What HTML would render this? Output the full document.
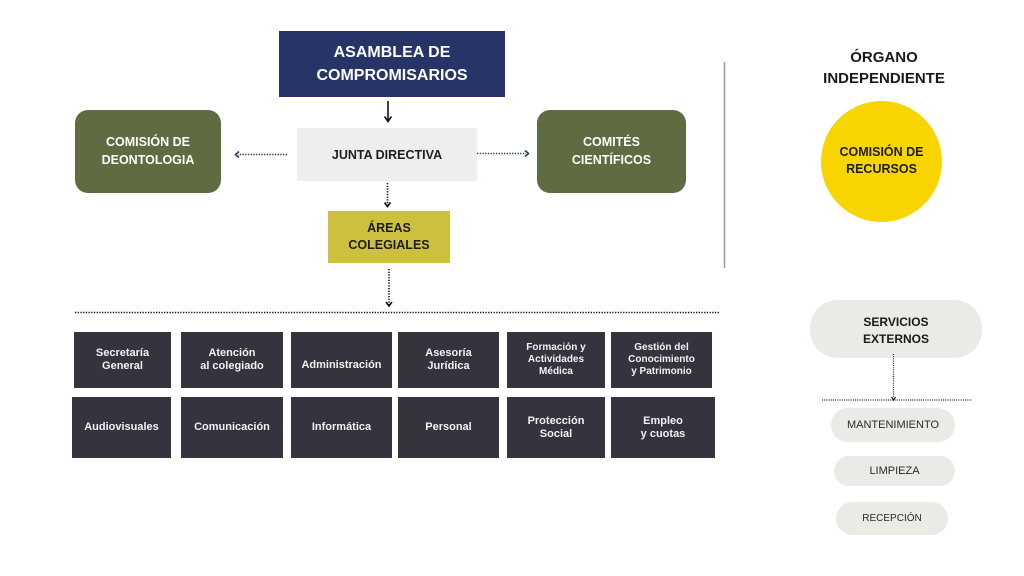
<!DOCTYPE html>
<html><head><meta charset="utf-8">
<style>
html,body{margin:0;padding:0;background:#fff;}
body{width:1024px;height:576px;position:relative;overflow:hidden;font-family:"Liberation Sans",Arial,sans-serif;}
.b{position:absolute;display:flex;align-items:center;justify-content:center;text-align:center;font-weight:bold;box-sizing:border-box;}
.navy{background:#273467;color:#fff;font-size:16px;line-height:23px;}
.olive{background:#5f6b41;color:#fff;font-size:12.5px;line-height:17.5px;border-radius:13px;}
.light{background:#efeeec;color:#1e1e1e;}
.yel{background:#cdc03f;color:#1c1c1c;font-size:12.5px;line-height:17.5px;}
.g{background:#34343e;color:#f2f2f2;font-size:11px;line-height:13px;}
.g3{font-size:10px;line-height:12px;}
.pill{background:#eceae7;color:#2a2a2a;font-weight:normal;border-radius:17px;}
svg{position:absolute;left:0;top:0;}
</style></head><body>

<div class="b navy" style="left:279px;top:31px;width:226px;height:66px;">ASAMBLEA DE<br>COMPROMISARIOS</div>
<div class="b olive" style="left:75px;top:110px;width:146px;height:83px;">COMISIÓN DE<br>DEONTOLOGIA</div>
<div class="b olive" style="left:537px;top:110px;width:149px;height:83px;">COMITÉS<br>CIENTÍFICOS</div>
<div class="b light" style="left:297px;top:128px;width:180px;height:53px;font-size:12.5px;">JUNTA DIRECTIVA</div>
<div class="b yel" style="left:328px;top:211px;width:122px;height:52px;">ÁREAS<br>COLEGIALES</div>

<div class="b g" style="left:74px;top:332px;width:97px;height:56px;">Secretaría<br>General</div>
<div class="b g" style="left:181px;top:332px;width:102px;height:56px;">Atención<br>al colegiado</div>
<div class="b g" style="left:291px;top:332px;width:101px;height:56px;padding-top:10px;">Administración</div>
<div class="b g" style="left:398px;top:332px;width:101px;height:56px;">Asesoría<br>Jurídica</div>
<div class="b g g3" style="left:507px;top:332px;width:98px;height:56px;">Formación y<br>Actividades<br>Médica</div>
<div class="b g g3" style="left:611px;top:332px;width:101px;height:56px;">Gestión del<br>Conocimiento<br>y Patrimonio</div>

<div class="b g" style="left:72px;top:397px;width:99px;height:61px;">Audiovisuales</div>
<div class="b g" style="left:181px;top:397px;width:102px;height:61px;">Comunicación</div>
<div class="b g" style="left:291px;top:397px;width:101px;height:61px;">Informática</div>
<div class="b g" style="left:398px;top:397px;width:101px;height:61px;">Personal</div>
<div class="b g" style="left:507px;top:397px;width:98px;height:61px;">Protección<br>Social</div>
<div class="b g" style="left:611px;top:397px;width:104px;height:61px;">Empleo<br>y cuotas</div>

<div class="b" style="left:800px;top:46px;width:168px;height:44px;font-size:15px;line-height:21px;color:#1a1a1a;">ÓRGANO<br>INDEPENDIENTE</div>
<div class="b" style="left:821px;top:101px;width:121px;height:121px;border-radius:50%;background:#f8d400;color:#1e1e1e;font-size:12.5px;line-height:17px;padding-bottom:2px;">COMISIÓN DE<br>RECURSOS</div>

<div class="b light" style="left:810px;top:300px;width:172px;height:58px;border-radius:28px;background:#eceae7;font-size:12px;line-height:17px;color:#1a1a1a;padding-top:3px;">SERVICIOS<br>EXTERNOS</div>
<div class="b pill" style="left:831px;top:408px;width:124px;height:34px;font-size:11px;">MANTENIMIENTO</div>
<div class="b pill" style="left:834px;top:456px;width:121px;height:30px;font-size:11px;border-radius:15px;">LIMPIEZA</div>
<div class="b pill" style="left:836px;top:502px;width:112px;height:33px;font-size:10px;">RECEPCIÓN</div>

<svg width="1024" height="576" viewBox="0 0 1024 576">
  <g fill="none" stroke-linecap="butt">
    <line x1="388" y1="101" x2="388" y2="121" stroke="#111" stroke-width="1.6"/>
    <polyline points="384.5,116.5 388,121.5 391.5,116.5" stroke="#111" stroke-width="1.6"/>
    <line x1="287" y1="154.5" x2="238" y2="154.5" stroke="#2c3a66" stroke-width="1.6" stroke-dasharray="1.3 1.4"/>
    <polyline points="239,151.5 235.5,154.5 239,157.5" stroke="#2c3a66" stroke-width="1.6"/>
    <line x1="477" y1="153.5" x2="526" y2="153.5" stroke="#2c3a66" stroke-width="1.6" stroke-dasharray="1.3 1.4"/>
    <polyline points="525,150.5 528.5,153.5 525,156.5" stroke="#2c3a66" stroke-width="1.6"/>
    <line x1="387.5" y1="183" x2="387.5" y2="205" stroke="#111" stroke-width="1.6" stroke-dasharray="1.3 1.4"/>
    <polyline points="384.5,202.5 387.5,206.5 390.5,202.5" stroke="#111" stroke-width="1.6"/>
    <line x1="389" y1="269" x2="389" y2="305" stroke="#111" stroke-width="1.6" stroke-dasharray="1.3 1.4"/>
    <polyline points="386,302 389,306 392,302" stroke="#111" stroke-width="1.6"/>
    <line x1="75" y1="312.5" x2="720" y2="312.5" stroke="#111" stroke-width="1.6" stroke-dasharray="1.3 1.4"/>
    <line x1="724.5" y1="62" x2="724.5" y2="268" stroke="#9a9a9a" stroke-width="1.5"/>
    <line x1="893.5" y1="354" x2="893.5" y2="398" stroke="#222" stroke-width="1.2" stroke-dasharray="1 1.2"/>
    <polyline points="891.5,397 893.5,400 895.5,397" stroke="#222" stroke-width="1.2"/>
    <line x1="822" y1="400" x2="972" y2="400" stroke="#222" stroke-width="1.2" stroke-dasharray="1 1.2"/>
  </g>
</svg>
</body></html>
